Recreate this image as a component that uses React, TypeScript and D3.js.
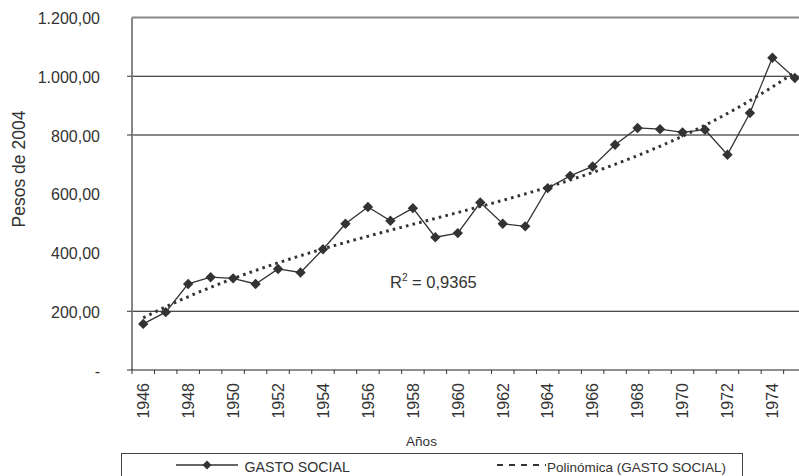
import React from "react";
import * as d3 from "d3";

const years: number[] = [
  1946, 1947, 1948, 1949, 1950, 1951, 1952, 1953, 1954, 1955,
  1956, 1957, 1958, 1959, 1960, 1961, 1962, 1963, 1964, 1965,
  1966, 1967, 1968, 1969, 1970, 1971, 1972, 1973, 1974, 1975,
];
const gastoSocial: number[] = [
  157, 197, 293, 316, 312, 293, 344, 332, 411, 498,
  555, 508, 551, 452, 466, 570, 498, 489, 619, 661,
  693, 767, 824, 820, 809, 818, 733, 875, 1063, 994,
];
const yTicks: number[] = [0, 200, 400, 600, 800, 1000, 1200];
const gridValues: number[] = [200, 800, 1000];
const labelYears: number[] = years.filter((y) => y % 2 === 0);

const fmt = (v: number) =>
  v === 0
    ? "-"
    : v
        .toFixed(2)
        .replace(".", ",")
        .replace(/\B(?=(\d{3})+(?!\d))/, ".");

// cubic least-squares fit (trend line of the data)
function polyFit(xs: number[], ys: number[], order: number): number[] {
  const n = order + 1;
  const A: number[][] = Array.from({ length: n }, () => new Array(n + 1).fill(0));
  for (let i = 0; i < xs.length; i++) {
    for (let r = 0; r < n; r++) {
      for (let c = 0; c < n; c++) A[r][c] += Math.pow(xs[i], r + c);
      A[r][n] += ys[i] * Math.pow(xs[i], r);
    }
  }
  for (let p = 0; p < n; p++) {
    let max = p;
    for (let r = p + 1; r < n; r++) if (Math.abs(A[r][p]) > Math.abs(A[max][p])) max = r;
    [A[p], A[max]] = [A[max], A[p]];
    for (let r = p + 1; r < n; r++) {
      const f = A[r][p] / A[p][p];
      for (let c = p; c <= n; c++) A[r][c] -= f * A[p][c];
    }
  }
  const coef = new Array(n).fill(0);
  for (let r = n - 1; r >= 0; r--) {
    let s = A[r][n];
    for (let c = r + 1; c < n; c++) s -= A[r][c] * coef[c];
    coef[r] = s / A[r][r];
  }
  return coef;
}

export default function App() {
  const W = 799;
  const H = 476;
  const left = 132;
  const step = 22.47;
  const right = left + years.length * step;
  const top = 17.5;
  const bottom = 370;

  const x = d3
    .scaleBand<number>()
    .domain(years)
    .range([left, right])
    .paddingInner(0)
    .paddingOuter(0);
  const cx = (yr: number) => (x(yr) as number) + x.bandwidth() / 2;
  const y = d3.scaleLinear().domain([0, 1200]).range([bottom, top]);

  const mid = 1960.5;
  const coef = polyFit(years.map((v) => v - mid), gastoSocial, 3);
  const trendFn = (yr: number) => {
    const t = yr - mid;
    return coef[0] + coef[1] * t + coef[2] * t * t + coef[3] * t * t * t;
  };
  const trendPts: [number, number][] = d3
    .range(0, 300)
    .map((i) => years[0] + (i / 299) * (years[years.length - 1] - years[0]))
    .map((yr) => [yr, trendFn(yr)]);

  const xCont = d3
    .scaleLinear()
    .domain([years[0], years[years.length - 1]])
    .range([cx(years[0]), cx(years[years.length - 1])]);

  const dataLine = d3
    .line<number>()
    .x((_, i) => cx(years[i]))
    .y((d) => y(d))(gastoSocial) as string;
  const trendLine = d3
    .line<[number, number]>()
    .x((d) => xCont(d[0]))
    .y((d) => y(d[1]))(trendPts) as string;

  const diamond = (px: number, py: number, r: number) =>
    `M${px},${py - r}L${px + r},${py}L${px},${py + r}L${px - r},${py}Z`;

  const font = "'Liberation Sans', Arial, sans-serif";
  const ink = "#333";

  return (
    <svg
      width={W}
      height={H}
      style={{ position: "absolute", left: 0, top: 0, background: "#fff" }}
      fontFamily={font}
    >
      <rect x={0} y={0} width={W} height={H} fill="#fff" />
      {/* gridlines */}
      {gridValues.map((v) => (
        <line key={v} x1={left} x2={right} y1={y(v)} y2={y(v)} stroke="#111" strokeWidth={1} />
      ))}
      {/* plot frame top */}
      <line x1={left} x2={right} y1={top} y2={top} stroke="#888" strokeWidth={2} />
      {/* y axis */}
      <line x1={left} x2={left} y1={top} y2={bottom} stroke="#888" strokeWidth={2} />
      {[0, 200, 800, 1000].map((v) => (
        <line key={v} x1={left - 5} x2={left} y1={y(v)} y2={y(v)} stroke="#333" strokeWidth={1} />
      ))}
      {yTicks.map((v) => (
        <text
          key={v}
          x={100}
          y={y(v) + 6.5}
          textAnchor="end"
          fontSize={16}
          fill={ink}
        >
          {fmt(v)}
        </text>
      ))}
      <text
        transform={`translate(24.5,169) rotate(-90)`}
        textAnchor="middle"
        fontSize={17.5}
        fill={ink}
      >
        Pesos de 2004
      </text>
      {/* x axis */}
      <line x1={left} x2={right} y1={bottom} y2={bottom} stroke="#222" strokeWidth={1.2} />
      {years.map((yr) => (
        <line
          key={yr}
          x1={x(yr) as number}
          x2={x(yr) as number}
          y1={bottom}
          y2={bottom + 4}
          stroke="#333"
          strokeWidth={1}
        />
      ))}
      {labelYears.map((yr) => (
        <text
          key={yr}
          transform={`translate(${cx(yr) + 5.8},${383}) rotate(-90)`}
          textAnchor="end"
          fontSize={16}
          fill={ink}
        >
          {yr}
        </text>
      ))}
      <text x={421.5} y={446} textAnchor="middle" fontSize={13.5} fill={ink}>
        Años
      </text>
      {/* trend */}
      <path
        d={trendLine}
        fill="none"
        stroke="#333"
        strokeWidth={3}
        strokeDasharray="2.6,4.2"
      />
      {/* data */}
      <path d={dataLine} fill="none" stroke="#333" strokeWidth={1.3} />
      {gastoSocial.map((v, i) => (
        <path key={i} d={diamond(cx(years[i]), y(v), 5.2)} fill="#333" />
      ))}
      <text x={390} y={288} fontSize={16.5} fill={ink}>
        R<tspan dy={-7} fontSize={10}>2</tspan>
        <tspan dy={7}> = 0,9365</tspan>
      </text>
      {/* legend */}
      <rect x={121.5} y={453.5} width={621} height={30} fill="#fff" stroke="#444" strokeWidth={1} />
      <line x1={176} x2={238} y1={465} y2={465} stroke="#333" strokeWidth={1.3} />
      <path d={diamond(207, 465, 4.5)} fill="#333" />
      <text x={244.5} y={471.5} fontSize={14.2} fill={ink}>
        GASTO SOCIAL
      </text>
      <line
        x1={497}
        x2={546}
        y1={465}
        y2={465}
        stroke="#333"
        strokeWidth={2}
        strokeDasharray="6,6"
      />
      <text x={547} y={471.5} fontSize={13.5} fill={ink}>
        Polinómica (GASTO SOCIAL)
      </text>
    </svg>
  );
}
